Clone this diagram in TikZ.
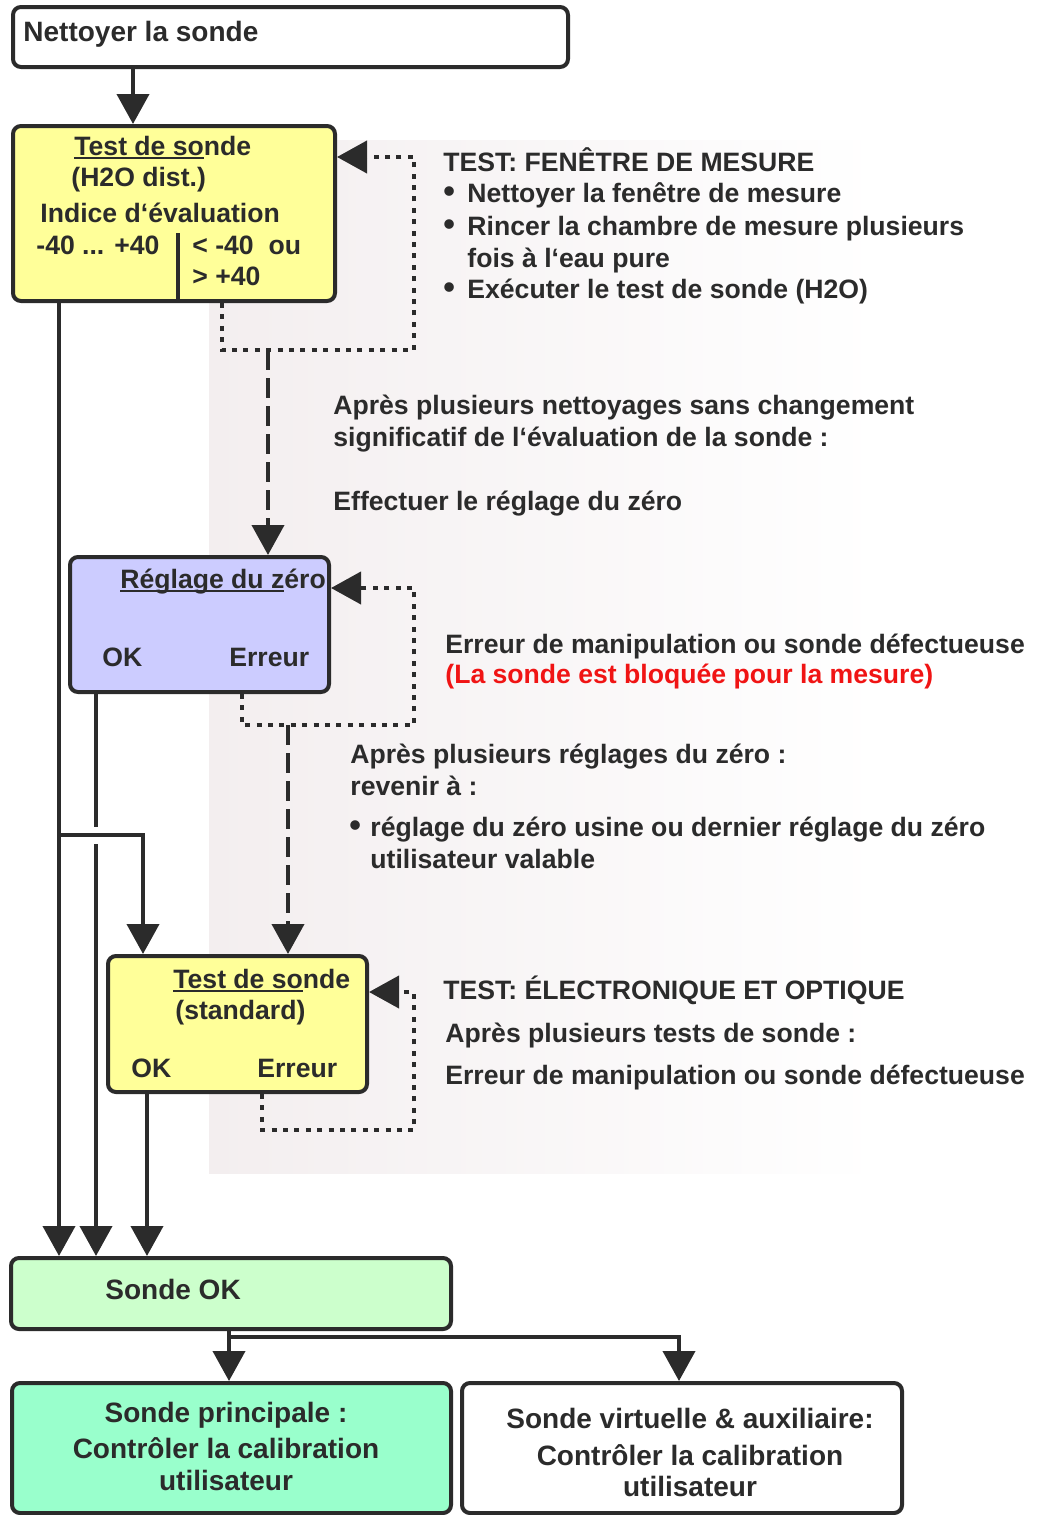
\documentclass[tikz,border=0pt]{standalone}
\usepackage{fontspec}
\setmainfont{Liberation Sans}
\usetikzlibrary{arrows.meta}
\definecolor{ink}{HTML}{2B2B2B}
\definecolor{boxyellow}{HTML}{FFFF99}
\definecolor{boxlilac}{HTML}{CCCCFF}
\definecolor{boxmint}{HTML}{CCFFCC}
\definecolor{boxaqua}{HTML}{99FFCC}
\definecolor{shadepink}{HTML}{F3EEEF}
\definecolor{alarm}{HTML}{F01414}
\tikzset{>={Triangle[length=15pt,width=16pt]}}
\newcommand{\bul}[1]{\makebox[#1][l]{\scalebox{1.25}{•}}}
\newcommand{\partline}[1]{\setbox0\hbox{#1}\rlap{\rule[-2pt]{\wd0}{0.9pt}}#1}

\begin{document}
\begin{tikzpicture}[x=0.5pt,y=-0.5pt,
  every node/.style={font=\fontsize{13.3}{16}\selectfont\bfseries,text=ink,inner sep=0pt},
  big/.style={font=\fontsize{14}{16}\selectfont\bfseries},
  box/.style={draw=ink,line width=2pt,rounded corners=4pt,anchor=north west},
  lbl/.style={anchor=base west},
  ctr/.style={anchor=base,big},
  flow/.style={draw=ink,line width=2pt,->},
  retry/.style={draw=ink,line width=2pt,dash pattern=on 2.5pt off 3.2pt,->},
  escalate/.style={draw=ink,line width=2pt,dash pattern=on 10pt off 4pt,->}]
\useasboundingbox (0,0) rectangle (1039,1515);
\shade[left color=shadepink,right color=white] (209,140) rectangle (880,1173);

\node[box,fill=white,minimum width=277.5pt,minimum height=30pt] (nettoyer) at (11,5) {};
\node[box,fill=boxyellow,minimum width=161pt,minimum height=87.5pt] (test1) at (11,124) {};
\node[box,fill=boxlilac,minimum width=129.5pt,minimum height=67.5pt] (reglage) at (68,555) {};
\node[box,fill=boxyellow,minimum width=129.5pt,minimum height=68pt] (test2) at (106,954) {};
\node[box,fill=boxmint,minimum width=220pt,minimum height=35.5pt] (sondeok) at (9,1256) {};
\node[box,fill=boxaqua,minimum width=219.5pt,minimum height=65pt] (principale) at (10,1381) {};
\node[box,fill=white,minimum width=220pt,minimum height=65pt] (virtuelle) at (460,1381) {};

\node[lbl,big] (nettoyertxt) at (23,41) {Nettoyer la sonde};
\node[lbl] (test1a) at (74,155) {\partline{Test de so}nde};
\node[lbl] (test1b) at (71,186) {(H2O dist.)};
\node[lbl] (test1c) at (40,222) {Indice d‘évaluation};
\node[lbl] (test1d) at (36,254) {-40 ... +40};
\node[lbl] (test1e) at (192,254) {< -40\ \ ou};
\node[lbl] (test1f) at (192,285) {> +40};
\draw[ink,line width=2pt] (178,233) -- (178,300);

\node[lbl] (reglagea) at (120,588) {\partline{Réglage du z}éro};
\node[lbl] (reglageok) at (102,666) {OK};
\node[lbl] (reglageerr) at (229,666) {Erreur};

\node[lbl] (test2a) at (173,988) {\partline{Test de so}nde};
\node[lbl] (test2b) at (175,1019) {(standard)};
\node[lbl] (test2ok) at (131,1077) {OK};
\node[lbl] (test2err) at (257,1077) {Erreur};

\node[lbl,big] (sondeoktxt) at (105,1299) {Sonde OK};
\node[ctr] (principalea) at (226,1422) {Sonde principale :};
\node[ctr] (principaleb) at (226,1458) {Contrôler la calibration};
\node[ctr] (principalec) at (226,1490) {utilisateur};
\node[ctr] (virtuellea) at (690,1428) {Sonde virtuelle \& auxiliaire:};
\node[ctr] (virtuelleb) at (690,1465) {Contrôler la calibration};
\node[ctr] (virtuellec) at (690,1496) {utilisateur};

\node[lbl] (fenetre) at (443,171) {TEST: FENÊTRE DE MESURE};
\node[lbl] (fenetrea) at (443,202) {\bul{12pt}Nettoyer la fenêtre de mesure};
\node[lbl] (fenetreb) at (443,235) {\bul{12pt}Rincer la chambre de mesure plusieurs};
\node[lbl] (fenetrec) at (467,267) {fois à l‘eau pure};
\node[lbl] (fenetred) at (443,298) {\bul{12pt}Exécuter le test de sonde (H2O)};
\node[lbl] (zeroa) at (333,414) {Après plusieurs nettoyages sans changement};
\node[lbl] (zerob) at (333,446) {significatif de l‘évaluation de la sonde :};
\node[lbl] (zeroc) at (333,510) {Effectuer le réglage du zéro};
\node[lbl] (defaut) at (445,653) {Erreur de manipulation ou sonde défectueuse};
\node[lbl,text=alarm] (bloquee) at (445,683) {(La sonde est bloquée pour la mesure)};
\node[lbl] (retoura) at (350,763) {Après plusieurs réglages du zéro :};
\node[lbl] (retourb) at (350,795) {revenir à :};
\node[lbl] (retourc) at (349,836) {\bul{10.5pt}réglage du zéro usine ou dernier réglage du zéro};
\node[lbl] (retourd) at (370,868) {utilisateur valable};
\node[lbl] (electro) at (443,999) {TEST: ÉLECTRONIQUE ET OPTIQUE};
\node[lbl] (electroa) at (445,1042) {Après plusieurs tests de sonde :};
\node[lbl] (electrob) at (445,1084) {Erreur de manipulation ou sonde défectueuse};

\coordinate (laneA) at (59,0);
\coordinate (laneB) at (96,0);
\coordinate (laneC) at (147,0);
\coordinate (laneD) at (143,0);
\coordinate (laneE) at (133,0);
\coordinate (laneF) at (229,0);
\coordinate (laneG) at (679,0);
\coordinate (split) at (59,835);
\coordinate (fork) at (229,1337);

\draw[flow] (nettoyer.south -| laneE) -- (test1.north -| laneE);
\draw[flow] (test1.south -| laneA) -- (sondeok.north -| laneA);
\draw[flow] (reglage.south -| laneB) -- (sondeok.north -| laneB);
\fill[white] (91,827) rectangle (101,844);
\draw[flow] (split) -| (test2.north -| laneD);
\draw[flow] (test2.south -| laneC) -- (sondeok.north -| laneC);
\draw[flow] (sondeok.south -| laneF) -- (principale.north -| laneF);
\draw[flow] (fork) -| (virtuelle.north -| laneG);

\coordinate (w1) at (222,350);
\coordinate (e1) at (414,157);
\coordinate (d1) at (268,350);
\draw[retry] (test1.south -| w1) -- (w1) -| (e1) -- (test1.east |- e1);
\draw[escalate] (d1) -- (reglage.north -| d1);
\coordinate (w2) at (242,725);
\coordinate (e2) at (414,588);
\coordinate (d2) at (288,725);
\draw[retry] (reglage.south -| w2) -- (w2) -| (e2) -- (reglage.east |- e2);
\draw[escalate] (d2) -- (test2.north -| d2);
\coordinate (w3) at (262,1130);
\coordinate (e3) at (414,992);
\draw[retry] (test2.south -| w3) -- (w3) -| (e3) -- (test2.east |- e3);
\end{tikzpicture}
\end{document}
